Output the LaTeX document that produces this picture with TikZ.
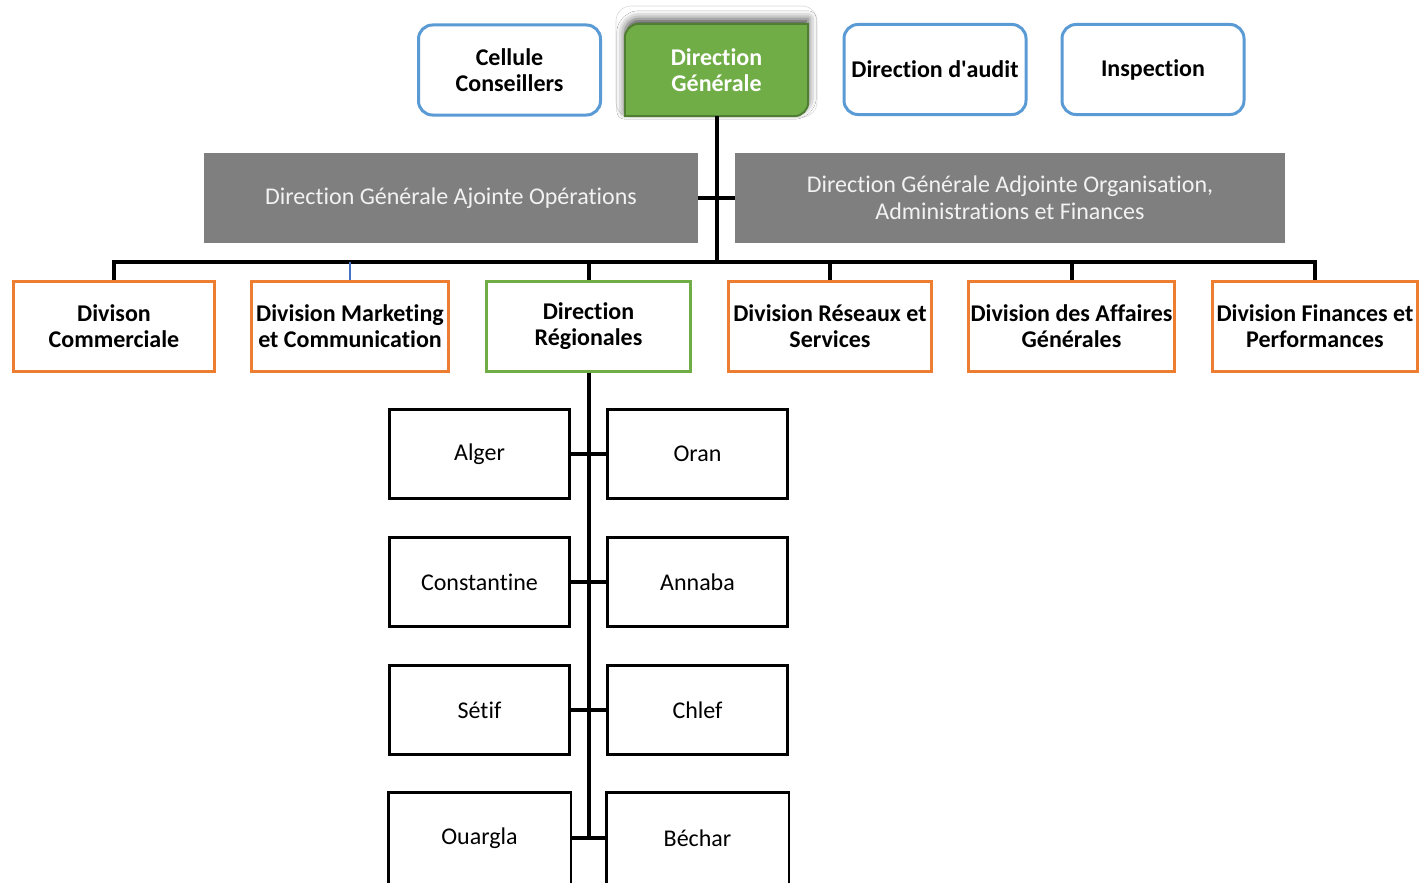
\documentclass[tikz,border=0pt]{standalone}
\usepackage{fontspec}
\setmainfont{Carlito}[Ligatures={NoCommon}]
\usetikzlibrary{shadows.blur}
\definecolor{bluebox}{HTML}{5B9BD5}
\definecolor{orangebox}{HTML}{ED7D31}
\definecolor{greenbox}{HTML}{70AD47}
\definecolor{greendark}{HTML}{507E32}
\definecolor{graybox}{HTML}{7F7F7F}
\definecolor{graytext}{HTML}{F2F2F2}
\definecolor{linkblue}{HTML}{4472C4}
\newcommand{\straightapos}{\XeTeXglyph\XeTeXcharglyph"0027\relax}
\tikzset{
  txt/.style={font=\fontsize{24}{26.5}\selectfont, align=center, inner sep=0pt},
  topbox/.style={txt, font=\fontsize{24}{26.5}\selectfont\bfseries, draw=bluebox, line width=3pt, rounded corners=14pt, minimum width=182pt, minimum height=90pt},
  graybx/.style={txt, fill=graybox, text=graytext, minimum height=90pt},
  divbox/.style={txt, font=\fontsize{24}{26.5}\selectfont\bfseries, draw=orangebox, line width=3pt, minimum height=90pt},
  regbox/.style={txt, draw=black, line width=2.5pt, minimum width=180pt, minimum height=89pt},
  conn/.style={draw=black, line width=4pt},
}
\begin{document}
\begin{tikzpicture}[x=1pt,y=1pt]
\useasboundingbox (0,0) rectangle (1419,-883);
\clip (0,0) rectangle (1419,-883);
\fill[white] (0,0) rectangle (1419,-883);

% top row
\node[topbox] (cc) at (509.5,-70) {Cellule\\Conseillers};
\node[topbox] (audit) at (935,-69.5) {Direction d\straightapos audit};
\node[topbox] (insp) at (1153,-69.5) {Inspection};

% Direction Generale (diagonal rounded corners)
\draw[draw=gray!30, line width=0.6pt, rounded corners=15pt] (616,-6) rectangle (817,-117);
\node[txt, minimum width=183pt, minimum height=92pt] (dg) at (716.5,-70) {};
\path[fill=greenbox, draw=greendark, line width=2pt,
  blur shadow={shadow xshift=0pt, shadow yshift=5pt, shadow blur radius=8pt, shadow opacity=70}]
  (dg.south west) -- ([yshift=-14pt]dg.north west)
  arc[start angle=180, end angle=90, radius=14pt]
  -- (dg.north east) -- ([yshift=14pt]dg.south east)
  arc[start angle=0, end angle=-90, radius=14pt] -- cycle;
\node[txt, font=\fontsize{24}{26.5}\selectfont\bfseries, text=white] at (dg.center) {Direction\\Générale};

% deputy directions
\node[graybx, minimum width=494pt] (gl) at (451,-198) {Direction Générale Ajointe Opérations};
\node[graybx, minimum width=550pt] (gr) at (1010,-198) {Direction Générale Adjointe Organisation,\\Administrations et Finances};

% divisions
\node[divbox, minimum width=201pt] (d1) at (114,-326) {Divison\\Commerciale};
\node[divbox, minimum width=197pt] (d2) at (350,-326) {Division Marketing\\et Communication};
\node[divbox, draw=greenbox, minimum width=204pt] (dr) at (588.5,-326) {Direction\\Régionales};
\node[divbox, minimum width=203pt] (d4) at (830,-326) {Division Réseaux et\\Services};
\node[divbox, minimum width=206pt] (d5) at (1071.5,-326) {Division des Affaires\\Générales};
\node[divbox, minimum width=205pt] (d6) at (1315,-326) {Division Finances et\\Performances};

% regions
\node[regbox] (alger) at (479.5,-454) {Alger};
\node[regbox] (oran) at (697.5,-454) {Oran};
\node[regbox] (const) at (479.5,-582) {Constantine};
\node[regbox] (annaba) at (697.5,-582) {Annaba};
\node[regbox] (setif) at (479.5,-710) {Sétif};
\node[regbox] (chlef) at (697.5,-710) {Chlef};
\node[regbox, draw=none] (ouargla) at (479.5,-838) {Ouargla};
\node[regbox, draw=none] (bechar) at (697.5,-838) {Béchar};
\draw[line width=2.5pt] ([yshift=-30pt]ouargla.south west) -- (ouargla.north west) -- (ouargla.north east) -- ([yshift=-30pt]ouargla.south east);
\draw[line width=2.5pt] ([yshift=-30pt]bechar.south west) -- (bechar.north west) -- (bechar.north east) -- ([yshift=-30pt]bechar.south east);

% connectors
\coordinate (bus) at (0,-262);
\draw[conn] (dg.south) -- (dg.south |- bus);
\draw[conn] (gl.east) -- (gr.west);
\draw[conn] (d1.north) -- (d1.north |- bus) -- (d6.north |- bus) -- (d6.north);
\draw[draw=linkblue, line width=1.5pt] (d2.north) -- (d2.north |- bus);
\draw[conn] (dr.north) -- (dr.north |- bus);
\draw[conn] (d4.north) -- (d4.north |- bus);
\draw[conn] (d5.north) -- (d5.north |- bus);
\draw[conn] (dr.south) -- (dr.south |- ouargla.east);
\draw[conn] (alger.east) -- (oran.west);
\draw[conn] (const.east) -- (annaba.west);
\draw[conn] (setif.east) -- (chlef.west);
\draw[conn] (ouargla.east) -- (bechar.west);
\end{tikzpicture}
\end{document}
